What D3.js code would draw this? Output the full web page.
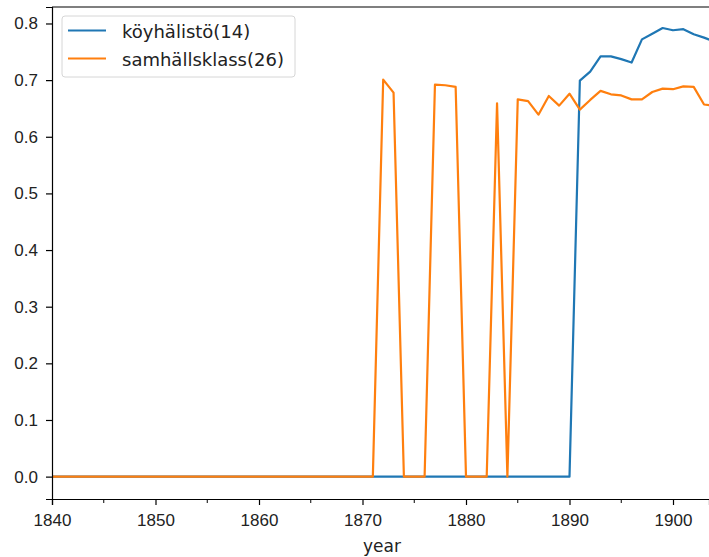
<!DOCTYPE html>
<html>
<head>
<meta charset="utf-8">
<script src="https://cdn.jsdelivr.net/npm/d3@7"></script>
<style>
  body { margin: 0; background: #fff; }
  svg { font-family: "DejaVu Sans", sans-serif; }
  .tick text { font-size: 17px; fill: #222; }
</style>
</head>
<body>
<div id="chart"></div>
<script>
const WIDTH = 709;
const HEIGHT = 557;
const MARGIN = {top: 7, right: 0, bottom: 58, left: 52};

const YEARS = d3.range(1840, 1905);
const SERIES_NAMES = ['köyhälistö(14)', 'samhällsklass(26)'];
const COLORS = ['#1f77b4', '#ff7f0e'];

// köyhälistö: zero until 1890, values from 1891 to 1904
const KOYHALISTO_LATE = [0.699, 0.715, 0.742, 0.742, 0.737, 0.731, 0.772, 0.782, 0.792, 0.788, 0.790, 0.781, 0.775, 0.768];
// samhällsklass values 1871..1904
const SAMHALL_LATE = [0, 0.701, 0.678, 0, 0, 0, 0.692, 0.691, 0.688, 0, 0, 0, 0.659, 0,
  0.666, 0.663, 0.639, 0.672, 0.655, 0.676, 0.648, 0.665, 0.681, 0.675, 0.673, 0.666,
  0.666, 0.679, 0.685, 0.684, 0.689, 0.688, 0.657, 0.655];

const koyhalisto = YEARS.map(y => y < 1891 ? 0 : KOYHALISTO_LATE[y - 1891]);
const samhall = YEARS.map(y => y < 1871 ? 0 : SAMHALL_LATE[y - 1871]);
const seriesValues = [koyhalisto, samhall];

const X_TICKS = [1840, 1850, 1860, 1870, 1880, 1890, 1900];
const X_MINOR = [1845, 1855, 1865, 1875, 1885, 1895];
const Y_TICKS = [0, 0.1, 0.2, 0.3, 0.4, 0.5, 0.6, 0.7, 0.8];

const svg = d3.select('#chart').append('svg')
  .attr('width', WIDTH)
  .attr('height', HEIGHT);

const x = d3.scaleLinear()
  .domain([1840, 1840 + (WIDTH - MARGIN.left) / 10.35])
  .range([MARGIN.left, WIDTH]);
const y = d3.scaleLinear()
  .domain([-0.0395, 0.8291])
  .range([HEIGHT - MARGIN.bottom, MARGIN.top]);

svg.append('defs').append('clipPath').attr('id', 'clip')
  .append('rect')
  .attr('x', MARGIN.left).attr('y', MARGIN.top)
  .attr('width', WIDTH - MARGIN.left)
  .attr('height', HEIGHT - MARGIN.bottom - MARGIN.top);

const line = d3.line()
  .x((d, i) => x(YEARS[i]))
  .y(d => y(d));

const plot = svg.append('g').attr('clip-path', 'url(#clip)');
seriesValues.forEach((vals, i) => {
  plot.append('path')
    .datum(vals)
    .attr('d', line)
    .attr('fill', 'none')
    .attr('stroke', COLORS[i])
    .attr('stroke-width', 2.2)
    .attr('stroke-linejoin', 'round')
    .attr('stroke-linecap', 'square');
});

// axes
const xAxis = svg.append('g')
  .attr('transform', `translate(0,${HEIGHT - MARGIN.bottom})`)
  .call(d3.axisBottom(x).tickValues(X_TICKS).tickFormat(d3.format('d')).tickSize(6).tickPadding(9));
xAxis.select('.domain').attr('stroke', '#000').attr('stroke-width', 1.2);
xAxis.selectAll('.tick line').attr('stroke', '#000').attr('stroke-width', 1.2);
xAxis.append('g').selectAll('line')
  .data(X_MINOR)
  .enter().append('line')
  .attr('x1', d => x(d)).attr('x2', d => x(d))
  .attr('y1', 0).attr('y2', 4)
  .attr('stroke', '#000');

const yAxis = svg.append('g')
  .attr('transform', `translate(${MARGIN.left},0)`)
  .call(d3.axisLeft(y).tickValues(Y_TICKS).tickFormat(d3.format('.1f')).tickSize(6).tickPadding(8));
yAxis.select('.domain').attr('stroke', '#000').attr('stroke-width', 1.2);
yAxis.selectAll('.tick line').attr('stroke', '#000').attr('stroke-width', 1.2);

svg.append('line')
  .attr('x1', MARGIN.left).attr('x2', WIDTH)
  .attr('y1', MARGIN.top).attr('y2', MARGIN.top)
  .attr('stroke', '#000').attr('stroke-width', 1.2);

svg.append('text')
  .attr('x', 382)
  .attr('y', 552)
  .attr('text-anchor', 'middle')
  .attr('font-size', 17)
  .attr('fill', '#222')
  .text('year');

// legend
const legend = svg.append('g');
legend.append('rect')
  .attr('x', 62).attr('y', 16)
  .attr('width', 233).attr('height', 61)
  .attr('rx', 3)
  .attr('fill', '#fff').attr('fill-opacity', 0.8)
  .attr('stroke', '#d6d6d6');
SERIES_NAMES.forEach((name, i) => {
  const cy = 30.5 + i * 28;
  legend.append('line')
    .attr('x1', 68).attr('x2', 106)
    .attr('y1', cy).attr('y2', cy)
    .attr('stroke', COLORS[i]).attr('stroke-width', 2.2);
  legend.append('text')
    .attr('x', 122).attr('y', cy + 7)
    .attr('font-size', 18)
    .attr('fill', '#222')
    .text(name);
});
</script>
</body>
</html>
